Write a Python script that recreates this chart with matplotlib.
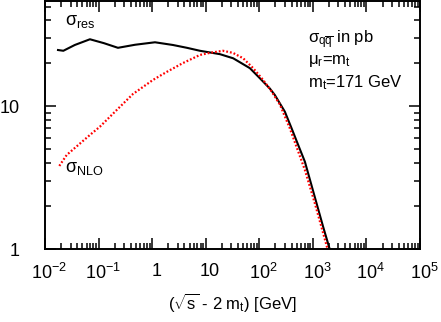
import matplotlib
matplotlib.use("Agg")
import matplotlib.pyplot as plt
import matplotlib.transforms as mtransforms
from matplotlib.ticker import FixedLocator, NullFormatter

plt.rcParams['font.family'] = ['Liberation Sans', 'DejaVu Sans']
plt.rcParams['mathtext.fontset'] = 'custom'
plt.rcParams['mathtext.rm'] = 'Liberation Sans'
plt.rcParams['mathtext.it'] = 'Liberation Sans:italic'
plt.rcParams['mathtext.bf'] = 'Liberation Sans:bold'

# sigma_res (solid black)
res_x = [0.0175, 0.022, 0.036, 0.069, 0.126, 0.23, 0.48, 1.13, 2.44, 4.46, 7.8,
         18.4, 32.6, 66.8, 103, 158, 195, 300, 401, 532, 710, 1172, 1556, 2060]
res_y = [24.8, 24.5, 26.9, 29.5, 27.7, 25.7, 27.0, 28.1, 26.9, 25.7, 24.5,
         23.2, 21.7, 18.5, 15.7, 13.3, 12.0, 9.17, 7.01, 5.36, 4.09, 2.09, 1.43, 1.0]

# sigma_NLO (red dotted)
nlo_x = [0.0185, 0.0254, 0.069, 0.106, 0.218, 0.439, 1.035, 1.86, 3.76, 7.8,
         12.0, 20.9, 32.1, 50.1, 76.9, 118, 170, 242, 372, 710, 1090, 1445, 1880]
nlo_y = [3.82, 4.56, 6.3, 7.2, 9.42, 12.2, 15.3, 17.4, 20.1, 22.9,
         23.7, 24.5, 23.7, 21.7, 18.5, 15.3, 12.7, 10.3, 7.01, 3.58, 2.09, 1.43, 1.0]

xtick_vals = [1e-2, 1e-1, 1, 10, 1e2, 1e3, 1e4, 1e5]
xtick_labels = ['$10^{-2}$', '$10^{-1}$', '1', '10', '$10^{2}$', '$10^{3}$', '$10^{4}$', '$10^{5}$']
ytick_vals = [1, 10]
ytick_labels = ['1', '10']

fig = plt.figure(figsize=(4.41, 3.22), dpi=100)
ax = fig.add_axes([45/441, 1-249/322, 375/441, 248/322])

ax.plot(res_x, res_y, color='black', lw=1.5)
ax.plot(nlo_x, nlo_y, color='red', lw=1.6, linestyle=(0, (0.8, 0.9)))

ax.set_xscale('log')
ax.set_yscale('log')
ax.set_xlim(1e-2, 1e5)
ax.set_ylim(1, 54.7)

ax.set_xticks(xtick_vals)
ax.set_xticklabels(xtick_labels)
ax.set_yticks(ytick_vals)
ax.set_yticklabels(ytick_labels)
xminor = [m * 10.0**e for e in range(-2, 5) for m in range(2, 10)]
ax.xaxis.set_minor_locator(FixedLocator(xminor))
ax.xaxis.set_minor_formatter(NullFormatter())
ax.yaxis.set_minor_locator(FixedLocator([2, 3, 4, 5, 6, 7, 8, 9, 20, 30, 40, 50]))
ax.yaxis.set_minor_formatter(NullFormatter())

ax.tick_params(which='both', direction='in', top=True, right=True, width=1.1)
ax.tick_params(which='major', length=8)
ax.tick_params(which='minor', length=4.5)
ax.tick_params(axis='x', which='major', labelsize=13, pad=10)
ax.tick_params(axis='y', which='major', labelsize=13, pad=18)
for sp in ax.spines.values():
    sp.set_linewidth(1.4)

# labels sit a little right of their ticks in the original
shift = mtransforms.ScaledTranslation(4/100, 0, fig.dpi_scale_trans)
for lbl in ax.get_xticklabels():
    lbl.set_transform(lbl.get_transform() + shift)

ax.set_xlabel(r'($\sqrt{\rm s}$ - 2 m$_{\rm t}$) [GeV]', fontsize=12, labelpad=6)

# annotations, placed in figure pixels (baseline)
def ftext(px, py, s, **kw):
    fig.text(px/441, 1-py/322, s, va='baseline', ha='left', **kw)

ftext(65, 25, r'σ$_{\rm res}$', fontsize=13)
ftext(65, 172, r'σ$_{\rm NLO}$', fontsize=13)
ftext(308, 43, r'σ$_{\rm q\overline{q}}$ in pb', fontsize=12)
ftext(308, 64, r'μ$_{\rm r}$=m$_{\rm t}$', fontsize=12)
ftext(308, 87, r'm$_{\rm t}$=171 GeV', fontsize=12)

fig.savefig('out.png', dpi=100)
